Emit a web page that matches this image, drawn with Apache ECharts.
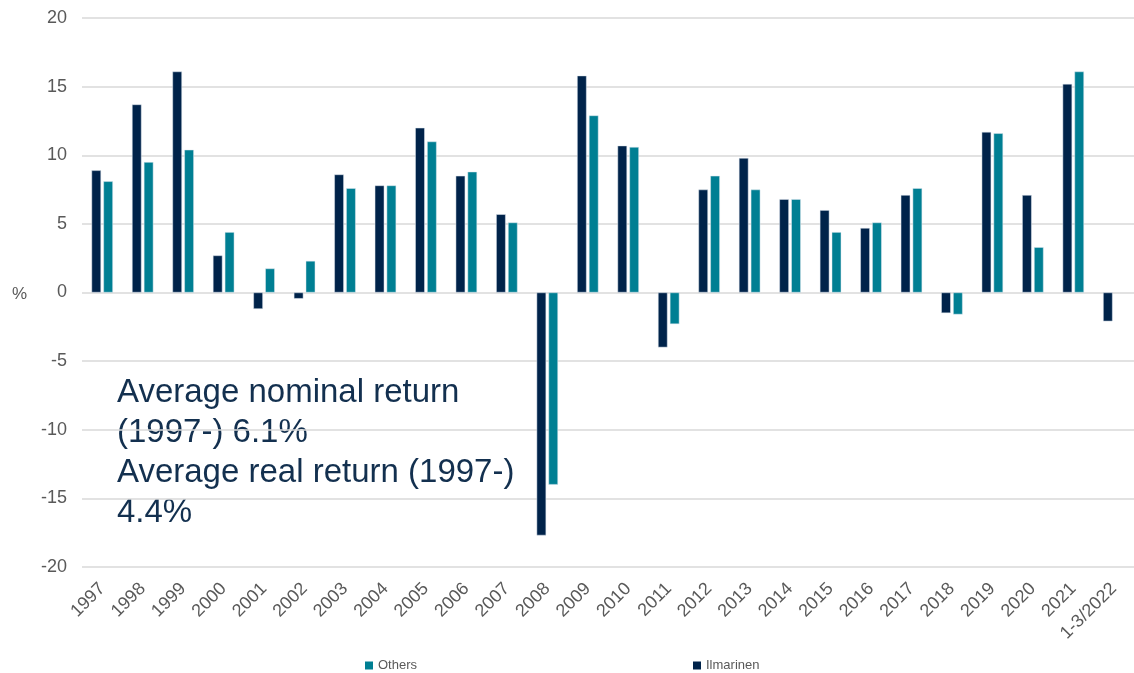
<!DOCTYPE html>
<html>
<head>
<meta charset="utf-8">
<script src="https://cdn.jsdelivr.net/npm/echarts@6/dist/echarts.min.js"></script>
<style>
  html, body { margin: 0; padding: 0; background: #fff; }
  #chart { width: 1134px; height: 673px; }
</style>
</head>
<body>
<div id="chart"></div>
<script>
// years on the x axis
const years = ['1997', '1998', '1999', '2000', '2001', '2002', '2003', '2004', '2005', '2006',
  '2007', '2008', '2009', '2010', '2011', '2012', '2013', '2014', '2015', '2016',
  '2017', '2018', '2019', '2020', '2021', '1-3/2022'];

// return %
const ilmarinen = [8.9, 13.7, 16.1, 2.7, -1.2, -0.45, 8.6, 7.8, 12.0, 8.5,
  5.7, -17.7, 15.8, 10.7, -4.0, 7.5, 9.8, 6.8, 6.0, 4.7,
  7.1, -1.5, 11.7, 7.1, 15.2, -2.1];
const others = [8.1, 9.5, 10.4, 4.4, 1.75, 2.3, 7.6, 7.8, 11.0, 8.8,
  5.1, -14.0, 12.9, 10.6, -2.3, 8.5, 7.5, 6.8, 4.4, 5.1,
  7.6, -1.6, 11.6, 3.3, 16.1, null];

const yTicks = [-20, -15, -10, -5, 0, 5, 10, 15, 20];

const noteLines = ['Average nominal return', '(1997-) 6.1%', 'Average real return (1997-)', '4.4%'];

const navy = '#00234a';
const teal = '#007f93';
const grey = '#595959';

const myChart = echarts.init(document.getElementById('chart'));

const option = {
  animation: false,
  textStyle: { fontFamily: 'Liberation Sans, Arial, sans-serif' },
  // the plot runs a bit past the right edge, the last category is cut off
  grid: { left: 82, right: -11, top: 18, bottom: 106 },
  legend: {
    data: ['Others', 'Ilmarinen'],
    top: 654,
    left: 360,
    itemWidth: 8,
    itemHeight: 8,
    itemGap: 276,
    icon: 'rect',
    itemStyle: { borderWidth: 0 },
    textStyle: { color: grey, fontSize: 13 }
  },
  xAxis: {
    type: 'category',
    data: years,
    axisLine: { show: false, onZero: false },
    axisTick: { show: false },
    axisLabel: {
      rotate: 45,
      interval: 0,
      margin: 19,
      color: grey,
      fontSize: 18
    }
  },
  yAxis: {
    type: 'value',
    min: yTicks[0],
    max: yTicks[yTicks.length - 1],
    interval: 5,
    axisLabel: { color: grey, fontSize: 18, margin: 15 },
    splitLine: { lineStyle: { color: '#d9d9d9', width: 1.5 } }
  },
  series: [
    {
      name: 'Ilmarinen',
      type: 'bar',
      data: ilmarinen,
      barWidth: 9.5,
      barGap: '25%',
      itemStyle: { color: navy, borderColor: '#dde6ee', borderWidth: 0.5 }
    },
    {
      name: 'Others',
      type: 'bar',
      data: others,
      barWidth: 9.5,
      itemStyle: { color: teal, borderColor: '#dde6ee', borderWidth: 0.5 }
    }
  ],
  graphic: [
    {
      type: 'text',
      left: 12,
      top: 286,
      style: { text: '%', fill: grey, font: '17px Liberation Sans, Arial, sans-serif' }
    },
    {
      type: 'text',
      left: 117,
      top: 373,
      style: {
        text: noteLines.join('\n'),
        fill: '#13304f',
        font: '33px Liberation Sans, Arial, sans-serif',
        lineHeight: 40
      }
    }
  ]
};

myChart.setOption(option);
</script>
</body>
</html>
